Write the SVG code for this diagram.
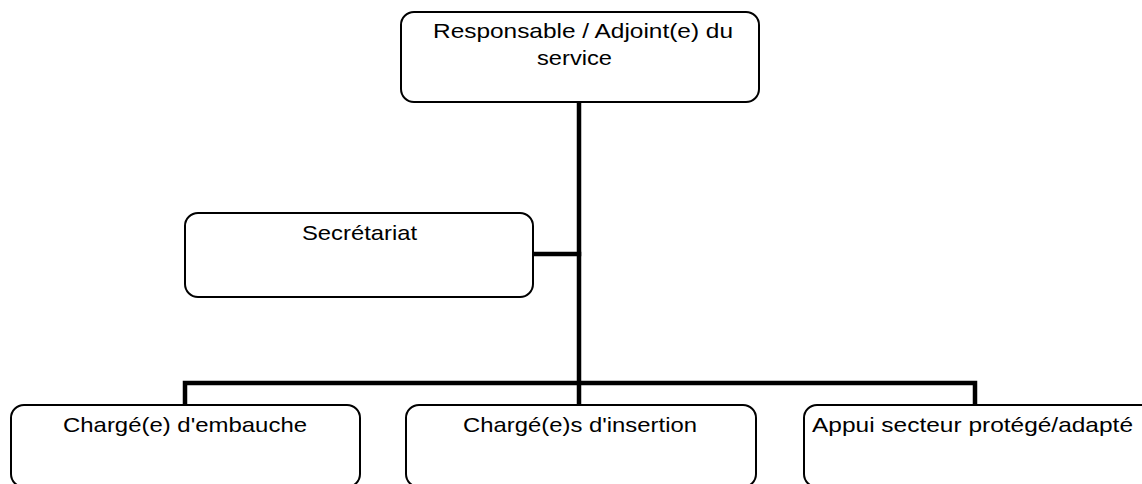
<svg xmlns="http://www.w3.org/2000/svg" width="1142" height="484" viewBox="0 0 1142 484">
<style>
.box{fill:#fff;stroke:#000;stroke-width:2}
.lbl{font-family:"Liberation Sans",Arial,sans-serif;font-size:21px;fill:#000}
.con{fill:none;stroke:#000;stroke-width:4.5;stroke-linecap:square}
</style>
<rect width="1142" height="484" fill="#fff"/>
<g id="connectors">
<path class="con" d="M579 102 V405"/>
<path class="con" d="M533 254 H579"/>
<path class="con" d="M185 405 V383 H975 V405"/>
</g>
<g id="responsable">
<rect class="box" x="401" y="12" width="358" height="90" rx="13"/>
<text class="lbl" x="433" y="38" textLength="300" lengthAdjust="spacingAndGlyphs">Responsable / Adjoint(e) du</text>
<text class="lbl" x="537" y="65" textLength="75" lengthAdjust="spacingAndGlyphs">service</text>
</g>
<g id="secretariat">
<rect class="box" x="185" y="213" width="348" height="84" rx="13"/>
<text class="lbl" x="302" y="240" textLength="115" lengthAdjust="spacingAndGlyphs">Secrétariat</text>
</g>
<g id="embauche">
<rect class="box" x="11" y="405" width="349" height="82" rx="13"/>
<text class="lbl" x="63" y="432" textLength="244" lengthAdjust="spacingAndGlyphs">Chargé(e) d'embauche</text>
</g>
<g id="insertion">
<rect class="box" x="406" y="405" width="350" height="82" rx="13"/>
<text class="lbl" x="463" y="432" textLength="234" lengthAdjust="spacingAndGlyphs">Chargé(e)s d'insertion</text>
</g>
<g id="appui">
<rect class="box" x="804" y="405" width="350" height="82" rx="13"/>
<text class="lbl" x="812" y="432" textLength="321" lengthAdjust="spacingAndGlyphs">Appui secteur protégé/adapté</text>
</g>
</svg>
